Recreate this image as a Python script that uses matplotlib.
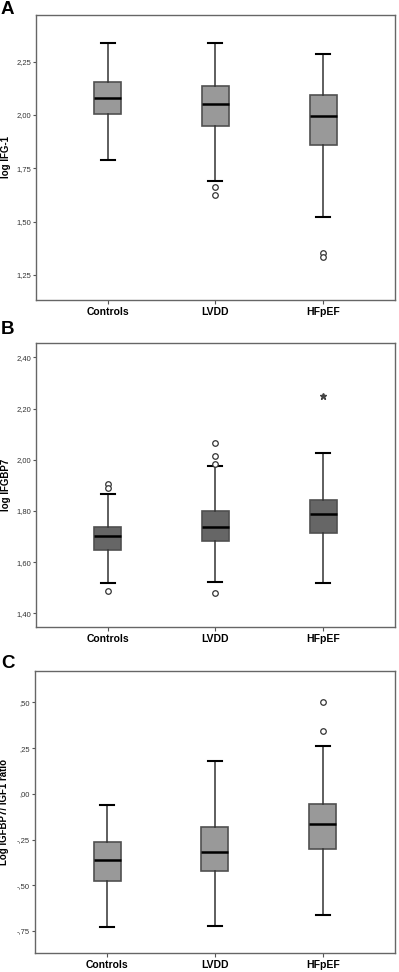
import matplotlib
matplotlib.use('Agg')
import matplotlib.pyplot as plt
from matplotlib.ticker import FuncFormatter

plt.rcParams['font.family'] = ['Liberation Sans Narrow', 'Liberation Sans', 'DejaVu Sans']

groups = ['Controls', 'LVDD', 'HFpEF']

# panel A: log IGF-1 (whislo, q1, med, q3, whishi, outliers)
a_whislo = [1.789, 1.692, 1.523]
a_q1 = [2.003, 1.949, 1.861]
a_med = [2.080, 2.050, 1.997]
a_q3 = [2.156, 2.136, 2.094]
a_whishi = [2.339, 2.336, 2.285]
a_fliers = [[], [1.661, 1.625], [1.355, 1.336]]
a_extremes = [[], [], []]
a_ticks = [1.25, 1.50, 1.75, 2.00, 2.25]

# panel B: log IGFBP7
b_whislo = [1.517, 1.521, 1.517]
b_q1 = [1.647, 1.684, 1.715]
b_med = [1.703, 1.736, 1.787]
b_q3 = [1.738, 1.800, 1.843]
b_whishi = [1.866, 1.975, 2.025]
b_fliers = [[1.905, 1.888, 1.488], [2.064, 2.014, 1.983, 1.480], []]
b_extremes = [[], [], [2.249]]
b_ticks = [1.40, 1.60, 1.80, 2.00, 2.20, 2.40]

# panel C: log IGFBP7/IGF1 ratio
c_whislo = [-0.726, -0.722, -0.662]
c_q1 = [-0.476, -0.420, -0.303]
c_med = [-0.361, -0.316, -0.164]
c_q3 = [-0.261, -0.182, -0.055]
c_whishi = [-0.062, 0.177, 0.263]
c_fliers = [[], [], [0.503, 0.345]]
c_extremes = [[], [], []]
c_ticks = [-0.75, -0.50, -0.25, 0.00, 0.25, 0.50]


def fmt_lead(v, p):
    return f'{v:.2f}'.replace('.', ',')


def fmt_nolead(v, p):
    return f'{v:.2f}'.replace('.', ',').replace('0,', ',')


def draw_panel(ax, whislo, q1, med, q3, whishi, fliers, extremes, ticks,
               ylim, ylabel, facecolor, formatter):
    stats = []
    for i in range(len(groups)):
        stats.append(dict(whislo=whislo[i], q1=q1[i], med=med[i], q3=q3[i],
                          whishi=whishi[i], fliers=fliers[i], label=groups[i]))
    ax.bxp(stats, positions=[1, 2, 3], widths=0.25, patch_artist=True,
           boxprops=dict(facecolor=facecolor, edgecolor='#505050', linewidth=1.2),
           medianprops=dict(color='black', linewidth=1.8),
           whiskerprops=dict(color='#333333', linewidth=1.1),
           capprops=dict(color='black', linewidth=1.5),
           capwidths=0.13,
           flierprops=dict(marker='o', markerfacecolor='white', markeredgecolor='#333333',
                           markersize=4, markeredgewidth=0.9))
    for i, ext in enumerate(extremes):
        if ext:
            ax.plot([i + 1] * len(ext), ext, linestyle='none', marker='*',
                    color='#444444', markersize=4.5)
    ax.set_xlim(0.333, 3.667)
    ax.set_ylim(*ylim)
    ax.set_yticks(ticks)
    ax.yaxis.set_major_formatter(FuncFormatter(formatter))
    ax.set_xticks([1, 2, 3])
    ax.set_xticklabels(groups, fontsize=7.5, fontweight='bold')
    ax.tick_params(axis='y', labelsize=5.5, length=2.5, width=0.8, color='#555555',
                   pad=1, labelcolor='#333333')
    ax.tick_params(axis='x', length=3, width=0.8, color='#555555', pad=2)
    for sp in ax.spines.values():
        sp.set_color('#666666')
        sp.set_linewidth(1.0)
    ax.set_ylabel(ylabel, fontsize=7, fontweight='bold')
    ax.yaxis.set_label_coords(-0.071, 0.5)


fig = plt.figure(figsize=(3.99, 9.72), dpi=100)
ax1 = fig.add_axes([0.0902, 0.6914, 0.8997, 0.2932])
ax2 = fig.add_axes([0.0902, 0.3546, 0.8997, 0.2928])
ax3 = fig.add_axes([0.0877, 0.0192, 0.9022, 0.2908])

draw_panel(ax1, a_whislo, a_q1, a_med, a_q3, a_whishi, a_fliers, a_extremes, a_ticks,
           (1.133, 2.469), 'log IFG-1', '#999999', fmt_lead)
draw_panel(ax2, b_whislo, b_q1, b_med, b_q3, b_whishi, b_fliers, b_extremes, b_ticks,
           (1.345, 2.457), 'log IFGBP7', '#666666', fmt_lead)
draw_panel(ax3, c_whislo, c_q1, c_med, c_q3, c_whishi, c_fliers, c_extremes, c_ticks,
           (-0.872, 0.673), 'Log IGFBP7/ IGF1 ratio', '#999999', fmt_nolead)

# panel letters
for letter, ytop in [('A', 1), ('B', 321), ('C', 655)]:
    fig.text(1 / 399, 1 - ytop / 972, letter, fontsize=13.5, fontweight='bold',
             family='Liberation Sans', va='top', ha='left')

plt.savefig('out.png', dpi=100)
